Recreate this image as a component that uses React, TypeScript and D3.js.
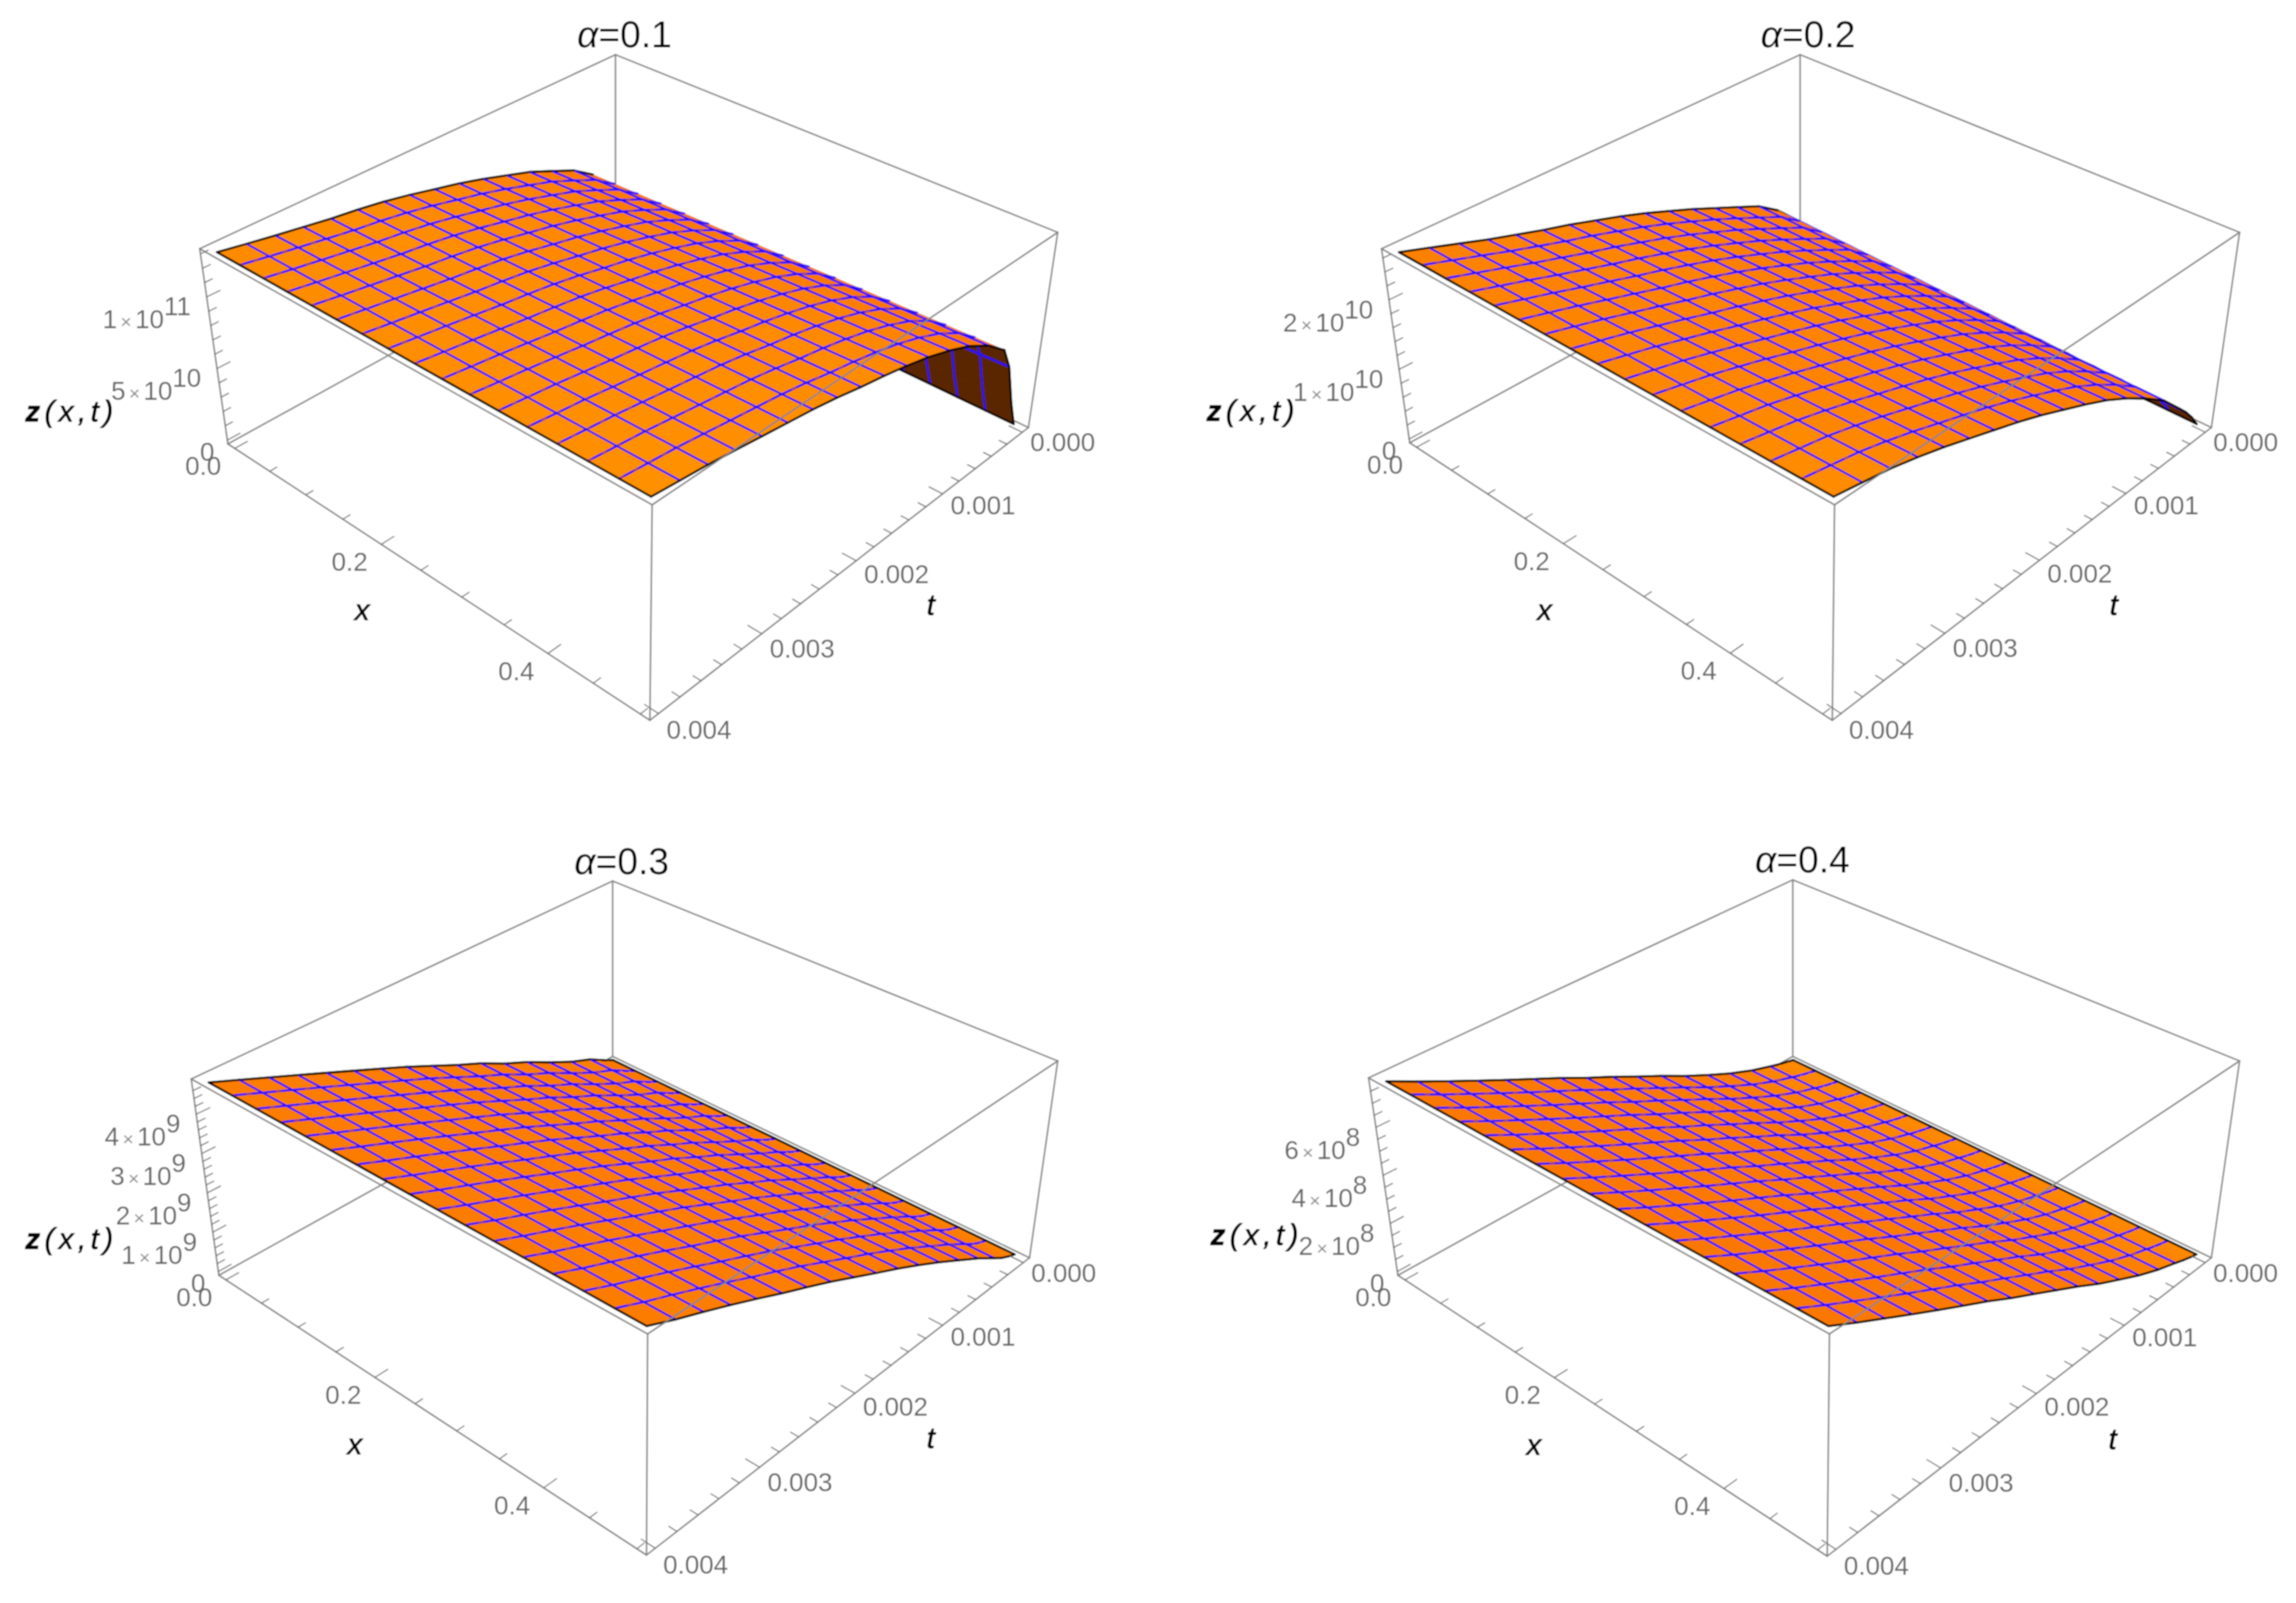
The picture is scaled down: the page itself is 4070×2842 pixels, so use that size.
import React, { useEffect, useRef } from 'react';
import * as d3 from 'd3';

type Pt = [number, number];

// sample positions of the surface
const xKnots = [0, 0.03125, 0.0625, 0.09375, 0.125, 0.15625, 0.1875, 0.21875, 0.25, 0.28125, 0.3125, 0.34375, 0.375, 0.40625, 0.4375, 0.46875, 0.5];
const tKnots = [0, 0.00008, 0.00018, 0.00028, 0.0005, 0.00075, 0.001, 0.00125, 0.0015, 0.00175, 0.002, 0.00225, 0.0025, 0.00275, 0.003, 0.00325, 0.0035, 0.00375, 0.004];

// z along t at the two side edges x=0 and x=0.5
const zAlpha1Near = [0, 0.17, 0.39, 0.55, 0.655, 0.734, 0.812, 0.871, 0.93, 0.983, 1.028, 1.074, 1.114, 1.146, 1.172, 1.205, 1.238, 1.273, 1.31].map((v) => v * 1e11);
const zAlpha1Far = [0, 0.183, 0.472, 0.629, 0.747, 0.845, 0.917, 0.976, 1.022, 1.061, 1.094, 1.133, 1.166, 1.192, 1.218, 1.245, 1.271, 1.29, 1.31].map((v) => v * 1e11);
const zAlpha2Near = [0, 0.214, 0.429, 0.563, 0.777, 0.938, 1.099, 1.26, 1.407, 1.554, 1.688, 1.809, 1.93, 2.037, 2.157, 2.278, 2.412, 2.546, 2.68].map((v) => v * 1e10);
const zAlpha2Far = [0, 0.16, 0.32, 0.456, 0.75, 0.99, 1.206, 1.394, 1.554, 1.702, 1.849, 1.983, 2.104, 2.224, 2.345, 2.452, 2.546, 2.613, 2.68].map((v) => v * 1e10);
const zAlpha3Near = [0, 0.096, 0.24, 0.384, 0.6, 0.91, 1.248, 1.536, 1.872, 2.16, 2.472, 2.784, 3.072, 3.36, 3.648, 3.936, 4.224, 4.512, 4.8].map((v) => v * 1e9);
const zAlpha3Far = [0, 0.07, 0.18, 0.33, 0.66, 1.0, 1.34, 1.66, 1.97, 2.26, 2.56, 2.86, 3.14, 3.41, 3.7, 3.98, 4.25, 4.51, 4.8].map((v) => v * 1e9);
const zAlpha4Near = [0, 0.08, 0.18, 0.3, 0.58, 0.98, 1.45, 1.95, 2.5, 3.02, 3.56, 4.07, 4.62, 5.14, 5.66, 6.2, 6.75, 7.31, 7.9].map((v) => v * 1e8);
const zAlpha4Far = [0, 0.08, 0.2, 0.34, 0.63, 1.03, 1.5, 1.98, 2.53, 3.04, 3.56, 4.07, 4.62, 5.14, 5.66, 6.2, 6.75, 7.31, 7.9].map((v) => v * 1e8);

const xTicks = [0, 0.2, 0.4];
const xMinor = [0.05, 0.1, 0.15, 0.25, 0.3, 0.35, 0.45, 0.5];
const tTicks = [0, 0.001, 0.002, 0.003, 0.004];

const panels = [
  {
    title: '0.1', zNear: zAlpha1Near, zFar: zAlpha1Far, zTicks: [0, 5e10, 1e11], zStep: 1e10, tNoMesh: [0.00008, 0.00028],
    top: [[1091, 97], [1875, 412], [1156, 895], [354, 441]] as Pt[],
    bottom: [[1091, 408], [1823, 758], [1152, 1277], [404, 787]] as Pt[],
    titleAt: [1107, 84], zAt: [45, 747], xAt: [642, 1081], tAt: [1650, 1072],
  },
  {
    title: '0.2', zNear: zAlpha2Near, zFar: zAlpha2Far, zTicks: [0, 1e10, 2e10], zStep: 2e9, tNoMesh: [0.00008, 0.00028],
    top: [[3191, 97], [3970, 412], [3252, 895], [2449, 441]] as Pt[],
    bottom: [[3191, 408], [3920, 758], [3248, 1277], [2499, 785]] as Pt[],
    titleAt: [3205, 84], zAt: [2139, 746], xAt: [2738, 1081], tAt: [3747, 1072],
  },
  {
    title: '0.3', zNear: zAlpha3Near, zFar: zAlpha3Far, zTicks: [0, 1e9, 2e9, 3e9, 4e9], zStep: 2e8, tNoMesh: [0.00008, 0.00018],
    top: [[1086, 1562], [1875, 1881], [1148, 2365], [339, 1913]] as Pt[],
    bottom: [[1086, 1873], [1825, 2230], [1146, 2757], [388, 2261]] as Pt[],
    titleAt: [1102, 1550], zAt: [45, 2214], xAt: [629, 2560], tAt: [1650, 2549],
  },
  {
    title: '0.4', zNear: zAlpha4Near, zFar: zAlpha4Far, zTicks: [0, 2e8, 4e8, 6e8], zStep: 5e7, tNoMesh: [0.00008, 0.00018],
    top: [[3178, 1560], [3970, 1881], [3243, 2365], [2426, 1911]] as Pt[],
    bottom: [[3178, 1873], [3920, 2230], [3239, 2759], [2478, 2261]] as Pt[],
    titleAt: [3195, 1547], zAt: [2146, 2207], xAt: [2719, 2561], tAt: [3745, 2551],
  },
];

const FONT = '"Liberation Sans", Arial, sans-serif';
const PAD = 0.02 / 1.04; // PlotRange padding of the box

// unit square -> quad, corners in order (0,0) (1,0) (1,1) (0,1)
const squareToQuad = (q: Pt[]) => {
  const [[x0, y0], [x1, y1], [x2, y2], [x3, y3]] = q;
  const dx1 = x1 - x2, dx2 = x3 - x2, sx = x0 - x1 + x2 - x3;
  const dy1 = y1 - y2, dy2 = y3 - y2, sy = y0 - y1 + y2 - y3;
  const den = dx1 * dy2 - dx2 * dy1;
  const g = (sx * dy2 - dx2 * sy) / den;
  const h = (dx1 * sy - sx * dy1) / den;
  const a = x1 - x0 + g * x1, b = x3 - x0 + h * x3;
  const d = y1 - y0 + g * y1, e = y3 - y0 + h * y3;
  return (u: number, v: number): Pt => {
    const w = g * u + h * v + 1;
    return [(a * u + b * v + x0) / w, (d * u + e * v + y0) / w];
  };
};

const shoelace = (p: Pt[]) =>
  d3.sum(p, (a, i) => {
    const b = p[(i + 1) % p.length];
    return a[0] * b[1] - b[0] * a[1];
  }) / 2;

const drawPanel = (svg: d3.Selection<any, unknown, null, undefined>, panel: (typeof panels)[number]) => {
  const g = svg.append('g');
  const zMax = panel.zNear[panel.zNear.length - 1];
  const uScale = d3.scaleLinear().domain([0, 0.5]).range([PAD, 1 - PAD]);
  const vScale = d3.scaleLinear().domain([0, 0.004]).range([PAD, 1 - PAD]);
  const wScale = d3.scaleLinear().domain([0, zMax]).range([PAD, 1 - PAD]);
  const shade = d3.scaleLinear<string>().domain([0.1, 0.45]).range(['#ff9000', '#fb7800']).clamp(true);

  const top = squareToQuad(panel.top);
  const bottom = squareToQuad(panel.bottom);
  const box = (u: number, v: number, w: number): Pt => {
    const a = top(u, v), b = bottom(u, v);
    return [b[0] + (a[0] - b[0]) * w, b[1] + (a[1] - b[1]) * w];
  };
  const zAt = (x: number, j: number) => panel.zNear[j] + (panel.zFar[j] - panel.zNear[j]) * (x / 0.5);
  const at = (x: number, j: number) => box(uScale(x), vScale(tKnots[j]), wScale(zAt(x, j)));

  const edge = (a: Pt, b: Pt, stroke: string, width: number, parent = g) =>
    parent.append('line').attr('x1', a[0]).attr('y1', a[1]).attr('x2', b[0]).attr('y2', b[1])
      .attr('stroke', stroke).attr('stroke-width', width).attr('stroke-linecap', 'round');

  const seg = (a: Pt, b: Pt, kind: 'tline' | 'xline' | 'rim') => {
    if (kind === 'xline') {
      edge(a, b, '#9a4090', 4.4).attr('stroke-linecap', 'butt');
      edge(a, b, '#2c10ff', 3.4).attr('stroke-dasharray', '20 9').attr('stroke-linecap', 'butt');
    } else if (kind === 'tline') {
      edge(a, b, '#2c10ff', 3.6);
    } else {
      edge(a, b, '#000', 3.8);
    }
  };

  // box edges behind the surface
  const BOX = '#858585';
  edge(box(0, 0, 1), box(0, 0, 0), BOX, 2.8);
  edge(box(0, 0, 0), box(0, 1, 0), BOX, 2.8);
  edge(box(0, 0, 0), box(1, 0, 0), BOX, 2.8);
  edge(box(0, 0, 1), box(0, 1, 1), BOX, 2.8);
  edge(box(0, 0, 1), box(1, 0, 1), BOX, 2.8);

  // strips far to near, so the surface hides itself
  d3.range(tKnots.length - 1).forEach((j) => {
    const strip = g.append('g');
    const cells = d3.range(xKnots.length - 1).map((i) => {
      const poly = [at(xKnots[i], j), at(xKnots[i + 1], j), at(xKnots[i + 1], j + 1), at(xKnots[i], j + 1)];
      const dw = wScale(zAt(xKnots[i], j + 1)) - wScale(zAt(xKnots[i], j));
      const slope = (Math.abs(dw) / (vScale(tKnots[j + 1]) - vScale(tKnots[j]))) * 0.4;
      const underside = shoelace(poly) < 0;
      return { poly, underside, fill: underside ? '#5a2700' : shade(slope) };
    });
    strip.selectAll('path').data(cells).join('path')
      .attr('d', (d) => `M${d.poly.join('L')}Z`)
      .attr('fill', (d) => d.fill)
      .attr('stroke', (d) => d.fill)
      .attr('stroke-width', 0.8);

    xKnots.slice(1, -1).forEach((x, i) => {
      if (cells[i].underside) edge(at(x, j), at(x, j + 1), '#2c10ff', 3.6);
      else seg(at(x, j), at(x, j + 1), 'xline');
    });
    if (j > 0 && !panel.tNoMesh.includes(tKnots[j])) {
      d3.pairs(xKnots).forEach(([a, b]) => seg(at(a, j), at(b, j), 'tline'));
    }
    if (j === 0) d3.pairs(xKnots).forEach(([a, b]) => seg(at(a, 0), at(b, 0), 'rim'));
    seg(at(xKnots[0], j), at(xKnots[0], j + 1), 'rim');
    seg(at(xKnots[xKnots.length - 1], j), at(xKnots[xKnots.length - 1], j + 1), 'rim');
  });
  d3.pairs(xKnots).forEach(([a, b]) => seg(at(a, tKnots.length - 1), at(b, tKnots.length - 1), 'rim'));

  // box edges in front of the surface
  edge(box(0, 1, 1), box(1, 1, 1), BOX, 2.8);
  edge(box(1, 0, 1), box(1, 1, 1), BOX, 2.8);
  edge(box(0, 1, 1), box(0, 1, 0), BOX, 2.8);
  edge(box(1, 0, 1), box(1, 0, 0), BOX, 2.8);
  edge(box(1, 1, 1), box(1, 1, 0), BOX, 2.8);
  edge(box(0, 1, 0), box(1, 1, 0), BOX, 2.8);
  edge(box(1, 0, 0), box(1, 1, 0), BOX, 2.8);

  // ticks
  const TICK = '#6e6e6e';
  const zMinor = d3.range(0, zMax, panel.zStep);
  zMinor.forEach((z) => {
    const major = panel.zTicks.includes(z);
    edge(box(0, 1, wScale(z)), box(0, 1 - (major ? 0.028 : 0.016), wScale(z)), TICK, 2);
  });
  xTicks.forEach((x) => edge(box(uScale(x), 1, 0), box(uScale(x), 0.972, 0), TICK, 2));
  xMinor.forEach((x) => edge(box(uScale(x), 1, 0), box(uScale(x), 0.984, 0), TICK, 2));
  d3.range(0, 0.00401, 0.0002).forEach((t) => {
    const major = tTicks.some((m) => Math.abs(m - t) < 1e-6);
    edge(box(1, vScale(t), 0), box(major ? 0.972 : 0.984, vScale(t), 0), TICK, 2);
  });

  // tick labels
  const tickText = (p: Pt, anchor: string, color = '#666') =>
    g.append('text').attr('x', p[0]).attr('y', p[1]).attr('text-anchor', anchor)
      .attr('font-family', FONT).attr('font-size', 46).attr('fill', color);

  xTicks.forEach((x) => {
    const p = box(uScale(x), 1, 0);
    tickText([p[0] - 56, p[1] + 47], 'middle').text(d3.format('.1f')(x));
  });
  tTicks.forEach((t) => {
    const p = box(1, vScale(t), 0);
    tickText([p[0] + 14, p[1] + 34 + 2750 * t], 'start').text(d3.format('.3f')(t));
  });
  panel.zTicks.forEach((z) => {
    const p = box(0, 1, wScale(z));
    if (z === 0) {
      tickText([p[0] - 23, p[1] + 37], 'end').text('0');
      return;
    }
    const e = Math.floor(Math.log10(z));
    const m = Math.round(z / 10 ** e);
    const label = tickText([p[0] - 28, p[1] + 56], 'end');
    label.append('tspan').text(`${m}`);
    label.append('tspan').attr('dx', 6).attr('font-size', 34).attr('fill', '#8a8a8a').text('×');
    label.append('tspan').attr('dx', 6).text('10');
    label.append('tspan').attr('dy', -23).text(`${e}`);
  });

  // titles
  const title = g.append('text').attr('x', panel.titleAt[0]).attr('y', panel.titleAt[1])
    .attr('text-anchor', 'middle').attr('font-family', FONT).attr('font-size', 66).attr('fill', '#000');
  title.append('tspan').attr('font-style', 'italic').text('α');
  title.append('tspan').text(`=${panel.title}`);

  // axis titles: the z is heavy, the rest only slightly thickened
  const axisTitle = (p: number[]) =>
    g.append('text').attr('x', p[0]).attr('y', p[1]).attr('font-family', FONT)
      .attr('font-size', 52).attr('font-style', 'italic').attr('fill', '#000')
      .attr('stroke', '#000').attr('stroke-width', 1.3);

  const zTitle = axisTitle(panel.zAt).attr('letter-spacing', 8);
  zTitle.append('tspan').attr('font-weight', 700).text('z');
  zTitle.append('tspan').text('(x,t)');
  axisTitle(panel.xAt).attr('text-anchor', 'middle').attr('dominant-baseline', 'central').text('x');
  axisTitle(panel.tAt).attr('text-anchor', 'middle').attr('dominant-baseline', 'central').text('t');
};

const App: React.FC = () => {
  const ref = useRef<SVGSVGElement>(null);

  useEffect(() => {
    if (!ref.current) return;
    const svg = d3.select(ref.current);
    svg.selectAll('*').remove();
    // the source is an enlarged raster, a slight blur keeps that look
    svg.append('filter').attr('id', 'soft').attr('x', 0).attr('y', 0).attr('width', 1).attr('height', 1)
      .attr('filterUnits', 'objectBoundingBox')
      .append('feGaussianBlur').attr('stdDeviation', 0.9);
    const root = svg.append('g').attr('filter', 'url(#soft)');
    root.append('rect').attr('width', 4070).attr('height', 2842).attr('fill', '#fff');
    panels.forEach((p) => drawPanel(root as any, p));
  }, []);

  return (
    <svg
      ref={ref}
      width={4070}
      height={2842}
      style={{ position: 'absolute', left: 0, top: 0, background: '#fff' }}
    />
  );
};

export default App;
